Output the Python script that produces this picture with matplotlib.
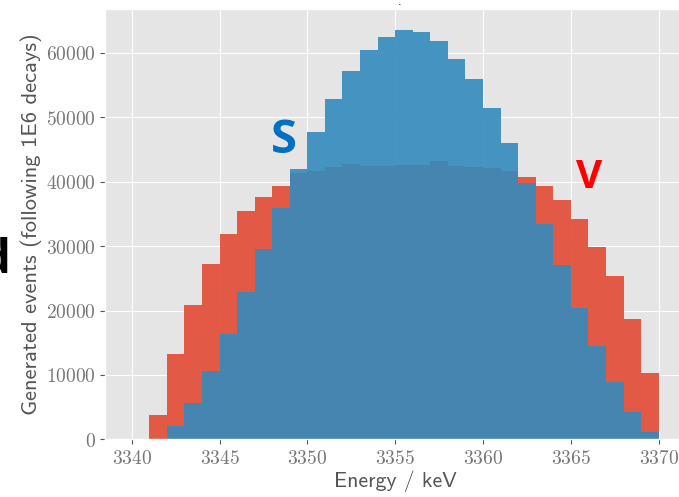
import numpy as np
import matplotlib
matplotlib.use("Agg")
import matplotlib.pyplot as plt
from matplotlib.ticker import FuncFormatter

plt.style.use("ggplot")
plt.rcParams["mathtext.fontset"] = "cm"

# bin edges (keV), 1 keV wide
edges = np.arange(3340, 3371, 1)

# V-A spectrum (red) and scalar spectrum (blue), events per bin
v_counts = [0, 3800, 13200, 20800, 27200, 31900, 35400, 37700, 39400, 41300,
            41700, 42300, 42700, 42500, 42500, 42600, 42600, 43200, 42500, 42300,
            42100, 41700, 40700, 39400, 37100, 34200, 29900, 25300, 18700, 10300]
s_counts = [0, 0, 2100, 5600, 10600, 16300, 22900, 29500, 35900, 42000,
            47700, 52800, 57200, 60400, 62500, 63600, 63300, 61900, 59000, 56000,
            51500, 46000, 39800, 33500, 27100, 20400, 14500, 8900, 4300, 1200]

xticks = [3340, 3345, 3350, 3355, 3360, 3365, 3370]
yticks = [0, 10000, 20000, 30000, 40000, 50000, 60000]

fig = plt.figure(figsize=(6.79, 4.97), dpi=100)
ax = fig.add_axes([0.1551, 0.1161, 0.8538, 0.8652])

centers = edges[:-1] + 0.5
ax.hist(centers, bins=edges, weights=v_counts, histtype="stepfilled",
        color="#E24A33", alpha=0.9, linewidth=0)
ax.hist(centers, bins=edges, weights=s_counts, histtype="stepfilled",
        color="#348ABD", alpha=0.9, linewidth=0)

ax.set_xlim(3338.5, 3371.5)
ax.set_ylim(0, 66780)
ax.set_xticks(xticks)
ax.set_yticks(yticks)
fmt = FuncFormatter(lambda v, p: r"$%d$" % v)
ax.xaxis.set_major_formatter(fmt)
ax.yaxis.set_major_formatter(fmt)
ax.tick_params(labelsize=14, colors="#555555", labelcolor="#777777")

xl = ax.set_xlabel("Energy / keV", family="cmss10", fontsize=16, color="#555555", labelpad=2)
yl = ax.set_ylabel("Generated events (following 1E6 decays)", family="cmss10",
                   fontsize=16, color="#555555", labelpad=3)

# size the labels to the widths seen on the slide (123 px, 382 px)
r = fig.canvas.get_renderer()
w = xl.get_window_extent(r).width
xl.set_fontsize(16 * 123 / w)
h = yl.get_window_extent(r).height
yl.set_fontsize(16 * 382 / h)

# slide annotations
fig.text(284 / 679, 1 - 140 / 497, "S", color="#0070C0", fontsize=34,
         fontweight="bold", family="Open Sans", ha="center", va="center")
fig.text(589 / 679, 1 - 177 / 497, "V", color="#FF0000", fontsize=29,
         fontweight="bold", family="Open Sans", ha="center", va="center")
fig.text(11 / 679, 1 - 273 / 497, "d", color="black", fontsize=34,
         fontweight="bold", family="Open Sans", ha="right", va="baseline")
fig.text(400 / 679, 1 - 5 / 497, ".", color="black", fontsize=8,
         ha="center", va="baseline")

fig.savefig("out.png", dpi=100)
